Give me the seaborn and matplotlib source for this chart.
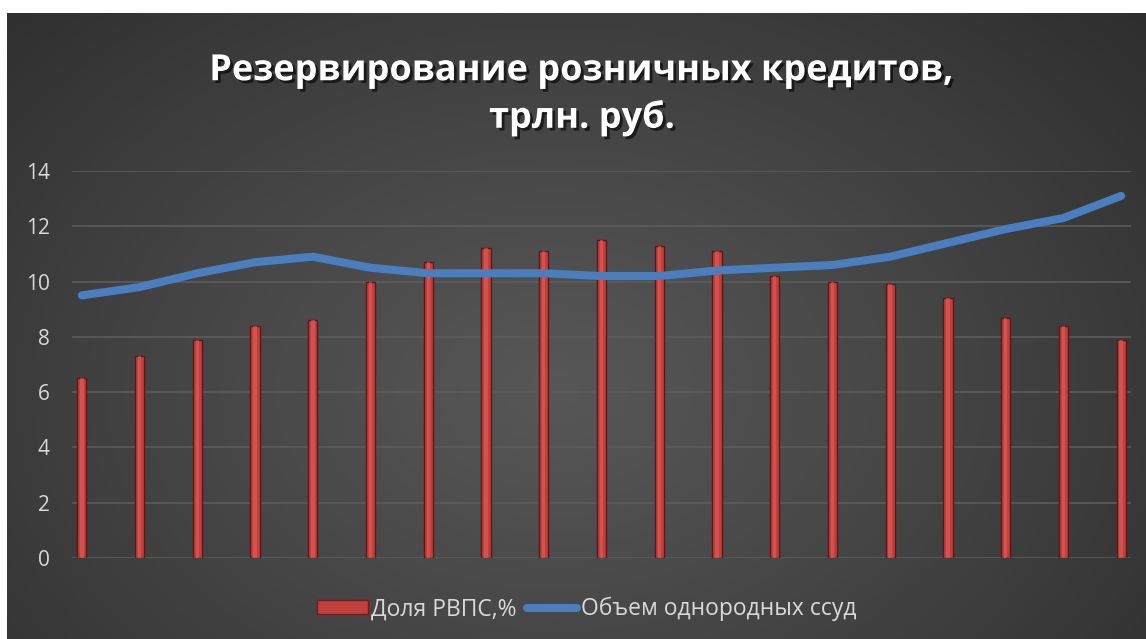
import numpy as np
import pandas as pd
import matplotlib
matplotlib.use("Agg")
import matplotlib.pyplot as plt
import matplotlib.patheffects as pe
from matplotlib.patches import Patch
from matplotlib.lines import Line2D
import seaborn as sns

# ---- data ----
periods = [1, 2, 3, 4, 5, 6, 7, 8, 9, 10, 11, 12, 13, 14, 15, 16, 17, 18, 19]
rvps_share = [6.5, 7.3, 7.9, 8.4, 8.6, 10.0, 10.7, 11.2, 11.1, 11.5, 11.3, 11.1,
              10.2, 10.0, 9.9, 9.4, 8.7, 8.4, 7.9]
loan_volume = [9.5, 9.8, 10.3, 10.7, 10.9, 10.5, 10.3, 10.3, 10.3, 10.2, 10.2,
               10.4, 10.5, 10.6, 10.9, 11.4, 11.9, 12.3, 13.1]
yticks = [0, 2, 4, 6, 8, 10, 12, 14]
title = "Резервирование розничных кредитов,\nтрлн. руб."
bar_label = "Доля РВПС,%"
line_label = "Объем однородных ссуд"

sns.set_theme(style="white")
plt.rcParams['font.family'] = ['Open Sans', 'DejaVu Sans']

W, H = 1146, 639
fig = plt.figure(figsize=(W / 100, H / 100), dpi=100)
fig.patch.set_facecolor("white")

# background panel with radial gradient
bg = fig.add_axes([7 / W, 0, (W - 7) / W, (H - 13) / H])
bg.set_axis_off()
gy, gx = np.mgrid[0:400, 0:700]
cx, cy = 0.48 * 700, 0.60 * 400
r = np.sqrt(((gx - cx) / 560.0) ** 2 + ((gy - cy) / 420.0) ** 2)
r = np.clip(r, 0, 1)
lo, hi = 0x27 / 255, 0x57 / 255
val = hi - (hi - lo) * r ** 1.1
img = np.dstack([val, val, val])
bg.imshow(img, aspect="auto", extent=[0, 1, 0, 1], origin="upper")
bg.set_xlim(0, 1)
bg.set_ylim(0, 1)

# main axes
left, right = 72 / W, 1131 / W
bottom, top = 1 - 558 / H, 1 - 171 / H
ax = fig.add_axes([left, bottom, right - left, top - bottom])
ax.patch.set_alpha(0)

df = pd.DataFrame({"period": periods, "rvps": rvps_share, "loans": loan_volume})
sns.barplot(data=df, x="period", y="rvps", ax=ax, color="#c23f3c",
            width=0.16, saturation=1, edgecolor="#5e1716", linewidth=1.0,
            zorder=3)
for p in ax.patches:
    p.set_zorder(3)
# highlight stripe on bars (same data)
sns.barplot(data=df, x="period", y="rvps", ax=ax, color="#dc6a66",
            width=0.06, saturation=1, linewidth=0, zorder=4, alpha=0.5)

sns.lineplot(x=np.arange(len(periods)), y=df["loans"], ax=ax, color="#4a7ebf",
             linewidth=5.8, solid_capstyle="round", solid_joinstyle="round",
             zorder=5)

ax.set_ylim(0, 14)
ax.set_xlim(-0.17, len(periods) - 1 + 0.17)
ax.set_yticks(yticks)
ax.set_yticklabels([str(t) for t in yticks], color="#d9d9d9", fontsize=15)
ax.set_xticks([])
ax.set_xlabel("")
ax.set_ylabel("")
ax.tick_params(axis="y", length=0, pad=16)
for s in ax.spines.values():
    s.set_visible(False)
ax.grid(axis="y", color="#5c5c5c", linewidth=1.2, zorder=0)
ax.set_axisbelow(True)

# title
fig.text(0.508, 1 - 95 / H, title, ha="center", va="center",
         fontsize=26, fontweight="bold", color="white", linespacing=1.36,
         path_effects=[pe.withSimplePatchShadow(offset=(2, -2), shadow_rgbFace="black", alpha=0.6)])

# legend
handles = [Patch(facecolor="#c23f3c", edgecolor="#6e1f1d", linewidth=1.0),
           Line2D([0], [0], color="#4a7ebf", linewidth=5.8, solid_capstyle="round")]
leg = fig.legend(handles, [bar_label, line_label], loc="center",
                 bbox_to_anchor=(0.512, 1 - 609 / H), ncol=2, frameon=False,
                 fontsize=16.5, handlelength=2.2, handleheight=0.55,
                 handletextpad=0.15, columnspacing=0.45)
for t in leg.get_texts():
    t.set_color("#d9d9d9")

fig.savefig("out.png", dpi=100, facecolor=fig.get_facecolor())
